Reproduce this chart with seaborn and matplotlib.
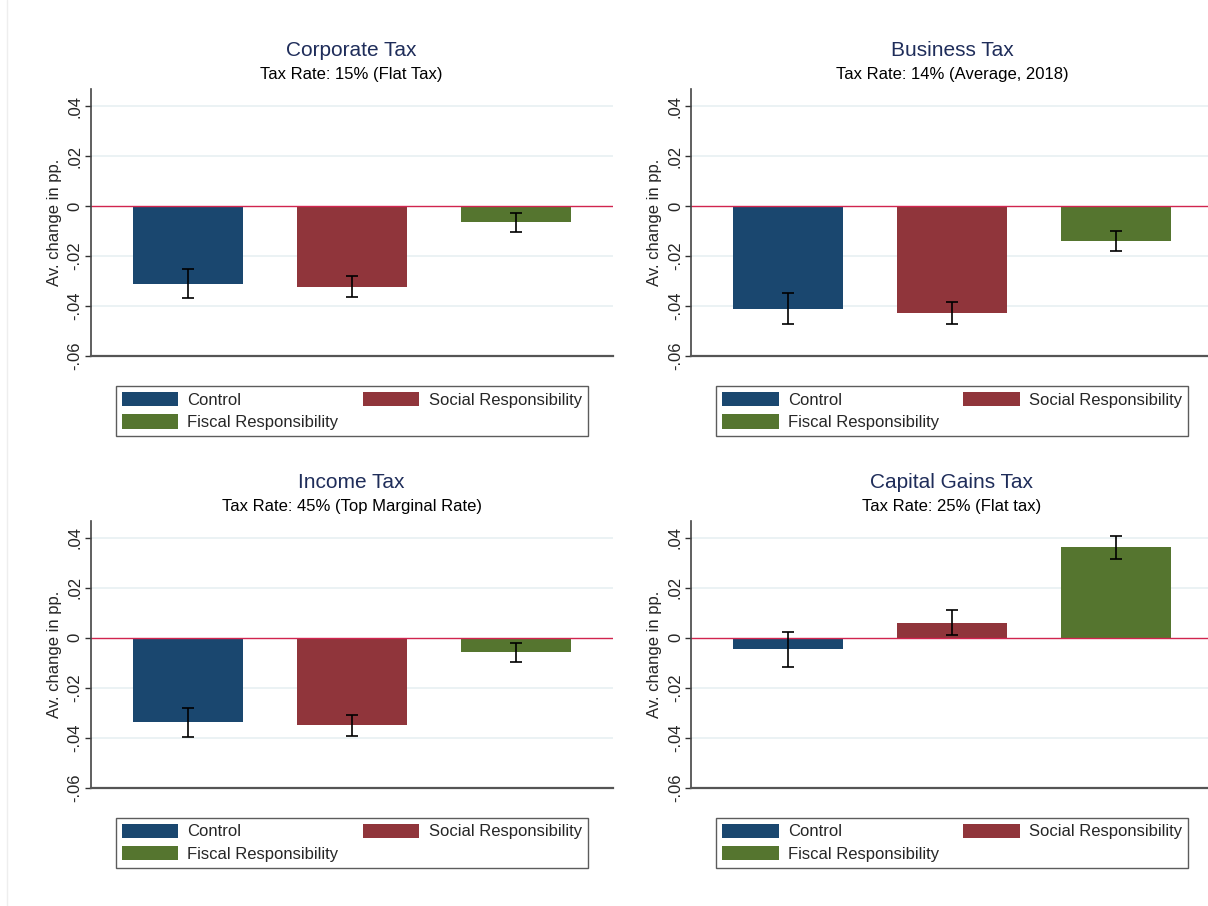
import matplotlib
matplotlib.use("Agg")
import matplotlib.pyplot as plt
from matplotlib.patches import Patch
from matplotlib.lines import Line2D
import numpy as np
import pandas as pd
import seaborn as sns

# ---- data -------------------------------------------------------------
groups = ["Control", "Social Responsibility", "Fiscal Responsibility"]
colors = ["#1A476F", "#90353B", "#55752F"]

titles = ["Corporate Tax", "Business Tax", "Income Tax", "Capital Gains Tax"]
subtitles = [
    "Tax Rate: 15% (Flat Tax)",
    "Tax Rate: 14% (Average, 2018)",
    "Tax Rate: 45% (Top Marginal Rate)",
    "Tax Rate: 25% (Flat tax)",
]

corporate_mean = [-0.0310, -0.0322, -0.0065]
corporate_ci = [0.0058, 0.0043, 0.0039]
business_mean = [-0.0410, -0.0429, -0.0138]
business_ci = [0.0062, 0.0044, 0.0040]
income_mean = [-0.0338, -0.0350, -0.0058]
income_ci = [0.0059, 0.0043, 0.0037]
capital_mean = [-0.0045, 0.0061, 0.0363]
capital_ci = [0.0070, 0.0050, 0.0046]

means = [corporate_mean, business_mean, income_mean, capital_mean]
cis = [corporate_ci, business_ci, income_ci, capital_ci]

yticks = [-0.06, -0.04, -0.02, 0.0, 0.02, 0.04]
yticklabels = ["-.06", "-.04", "-.02", "0", ".02", ".04"]
ylabel = "Av. change in pp."

# ---- style ------------------------------------------------------------
sns.set_style("white")
plt.rcParams["font.family"] = ["Liberation Sans", "DejaVu Sans"]

W, H = 1208, 906
fig = plt.figure(figsize=(W / 100, H / 100), dpi=100)

# panel boxes in pixels: left, top, width, height
ax_w, ax_h = 522, 267
boxes = [(90.7, 89), (691, 89), (90.7, 520.7), (691, 520.7)]

title_color = "#1F2D5A"
zero_color = "#D1244F"
grid_color = "#E8F0F2"

for i, (px, py) in enumerate(boxes):
    ax = fig.add_axes([px / W, 1 - (py + ax_h) / H, ax_w / W, ax_h / H])
    df = pd.DataFrame({"group": groups, "value": means[i]})
    sns.barplot(data=df, x="group", y="value", hue="group", order=groups,
                hue_order=groups, palette=colors, width=0.67, errorbar=None,
                legend=False, ax=ax, linewidth=0, saturation=1)
    xs = np.arange(len(groups))
    ax.errorbar(xs, means[i], yerr=cis[i], fmt="none", ecolor="black",
                elinewidth=1.2, capsize=4.5, capthick=1.2, zorder=5)

    ax.set_ylim(-0.06, 0.0469)
    ax.set_xlim(-0.593, 2.59)
    ax.set_yticks(yticks)
    ax.set_yticklabels(yticklabels)
    ax.set_xticks([])
    ax.set_xlabel("")
    ax.set_ylabel(ylabel, fontsize=12, labelpad=4)

    for y in yticks:
        if y != 0:
            ax.axhline(y, color=grid_color, lw=1.2, zorder=0)
    ax.axhline(0, color=zero_color, lw=1.0, zorder=1)

    ax.tick_params(axis="y", which="major", length=4.3, width=1.0,
                   color="#333333", pad=1.5, labelsize=12, left=True)
    for lab in ax.get_yticklabels():
        lab.set_rotation(90)
        lab.set_va("center")
        lab.set_ha("right")

    for s in ["top", "right"]:
        ax.spines[s].set_visible(False)
    ax.spines["left"].set_color("#444444")
    ax.spines["left"].set_linewidth(1.2)
    ax.spines["bottom"].set_color("#555555")
    ax.spines["bottom"].set_linewidth(1.6)

    cx = (px + ax_w / 2) / W
    fig.text(cx, 1 - (py - 38) / H, titles[i], ha="center", va="center",
             fontsize=15, color=title_color)
    fig.text(cx, 1 - (py - 14) / H, subtitles[i], ha="center", va="center",
             fontsize=12, color="black")

    handles = [Patch(facecolor=colors[0], edgecolor="none"),
               Patch(facecolor=colors[2], edgecolor="none"),
               Patch(facecolor=colors[1], edgecolor="none")]
    labels = [groups[0], groups[2], groups[1]]
    leg = ax.legend(handles, labels, ncol=2, loc="upper center",
                    bbox_to_anchor=(cx, 1 - (py + ax_h + 30) / H),
                    bbox_transform=fig.transFigure, fontsize=12,
                    frameon=True, fancybox=False, handlelength=3.4,
                    handleheight=0.95, handletextpad=0.55, columnspacing=1.45,
                    labelspacing=0.4, borderpad=0.35, borderaxespad=0)
    leg.get_frame().set_edgecolor("#333333")
    leg.get_frame().set_linewidth(1.0)

fig.add_artist(Line2D([7.5 / W, 7.5 / W], [0, 1], color="#EEEEEE", lw=1))

fig.savefig("out.png", dpi=100, facecolor="white")
